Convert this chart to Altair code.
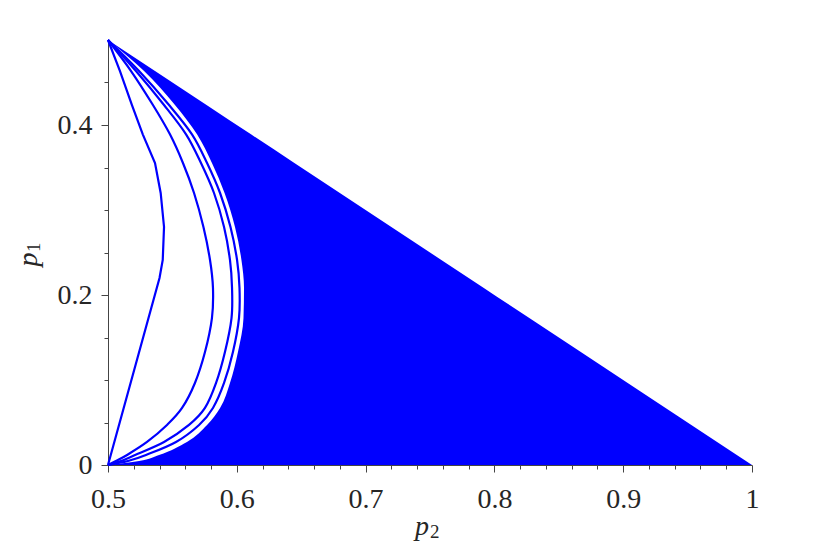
import altair as alt
import pandas as pd

# shared p1 grid for the curved boundaries (top -> bottom)
p1_grid = [0.5, 0.4635, 0.4235, 0.389, 0.3553, 0.32, 0.28, 0.2412, 0.2082,
           0.1729, 0.1329, 0.0965, 0.0671, 0.0471, 0.0271, 0.0118, 0.0047, 0.0]
curve2_p2 = [0.5, 0.5179, 0.5349, 0.5481, 0.5582, 0.5668, 0.5741, 0.5792, 0.5815,
             0.5807, 0.5753, 0.5675, 0.5575, 0.5458, 0.5303, 0.5148, 0.5062, 0.5]
curve3_p2 = [0.5, 0.5217, 0.5435, 0.5606, 0.5722, 0.5823, 0.5901, 0.5947, 0.5963,
             0.5959, 0.5908, 0.5839, 0.5753, 0.5629, 0.5435, 0.5210, 0.5101, 0.5]
curve4_p2 = [0.5, 0.5241, 0.5474, 0.5652, 0.5769, 0.5870, 0.5951, 0.6002, 0.6021,
             0.6017, 0.5970, 0.5901, 0.5815, 0.5707, 0.5528, 0.5295, 0.5155, 0.5]
edge_p2 = [0.5, 0.5280, 0.5520, 0.5691, 0.5807, 0.5905, 0.5986, 0.6036, 0.6056,
           0.6052, 0.6009, 0.5947, 0.5870, 0.5769, 0.5613, 0.5396, 0.5241, 0.5]

# innermost curve (with straight lower part)
curve1_p1 = [0.5, 0.4635, 0.4235, 0.389, 0.3553, 0.32, 0.28, 0.2412, 0.22, 0.0]
curve1_p2 = [0.5, 0.5093, 0.5186, 0.527, 0.5365, 0.5409, 0.5435, 0.5425, 0.540, 0.5]

x_ticks = [0.5, 0.52, 0.54, 0.56, 0.58, 0.6, 0.62, 0.64, 0.66, 0.68, 0.7, 0.72, 0.74,
           0.76, 0.78, 0.8, 0.82, 0.84, 0.86, 0.88, 0.9, 0.92, 0.94, 0.96, 0.98, 1.0]
y_ticks = [0.0, 0.05, 0.1, 0.15, 0.2, 0.25, 0.3, 0.35, 0.4, 0.45]

BLUE = "#0000ff"
FONT = "Liberation Serif"
INK = "#262626"

c1_df = pd.DataFrame({"idx": list(range(len(curve1_p1))), "p1": curve1_p1, "p2": curve1_p2})
rows = []
for name, arr in [("c2", curve2_p2), ("c3", curve3_p2), ("c4", curve4_p2)]:
    for i, (a, b) in enumerate(zip(p1_grid, arr)):
        rows.append({"curve": name, "idx": i, "p1": a, "p2": b})
lines_df = pd.DataFrame(rows)

fill_df = pd.DataFrame({
    "py": p1_grid,
    "xa": edge_p2,
    "xb": [1 - v for v in p1_grid],
})

x_major = "abs(datum.value*10 - round(datum.value*10)) < 1e-6"
y_major = "abs(datum.value*5 - round(datum.value*5)) < 1e-6"

x_scale = alt.Scale(domain=[0.5, 1.0], nice=False, zero=False)
y_scale = alt.Scale(domain=[0.0, 0.5], nice=False, zero=False)

x_axis = alt.Axis(
    values=x_ticks, title=None, grid=False,
    labelExpr=f"{x_major} ? format(datum.value, '~g') : ''",
    tickSize={"condition": {"test": x_major, "value": 7}, "value": 4},
    labelFont=FONT, labelFontSize=28, labelColor=INK, labelPadding=13,
    labelFlush=False, labelOverlap=False,
    tickColor="#444", domainColor="#444", tickWidth=1, domainWidth=1,
)
y_axis = alt.Axis(
    values=y_ticks, title=None, grid=False,
    labelExpr=f"{y_major} ? format(datum.value, '~g') : ''",
    tickSize={"condition": {"test": y_major, "value": 7}, "value": 4},
    labelFont=FONT, labelFontSize=28, labelColor=INK, labelPadding=9,
    labelFlush=False, labelOverlap=False,
    tickColor="#444", domainColor="#444", tickWidth=1, domainWidth=1,
)

fill = alt.Chart(fill_df).mark_area(orient="horizontal", fill=BLUE, fillOpacity=1,
                                     interpolate="monotone").encode(
    y=alt.Y("py:Q", scale=y_scale, axis=y_axis),
    x=alt.X("xa:Q", scale=x_scale, axis=x_axis, stack=None),
    x2="xb:Q",
)

line1 = alt.Chart(c1_df).mark_line(color=BLUE, strokeWidth=2.2).encode(
    x=alt.X("p2:Q", scale=x_scale, axis=x_axis),
    y=alt.Y("p1:Q", scale=y_scale, axis=y_axis),
    order=alt.Order("idx:Q"),
)

lines = alt.Chart(lines_df).mark_line(color=BLUE, strokeWidth=2.2,
                                      interpolate="cardinal").encode(
    x=alt.X("p2:Q", scale=x_scale, axis=x_axis),
    y=alt.Y("p1:Q", scale=y_scale, axis=y_axis),
    detail="curve:N",
    order=alt.Order("idx:Q"),
)

one = pd.DataFrame({"k": [0]})
xt_p = alt.Chart(one).mark_text(text="p", font=FONT, fontSize=28, fontStyle="italic",
                                color=INK, align="center", baseline="alphabetic").encode(
    x=alt.value(314), y=alt.value(495))
xt_s = alt.Chart(one).mark_text(text="2", font=FONT, fontSize=19,
                                color=INK, align="left", baseline="alphabetic").encode(
    x=alt.value(322), y=alt.value(498))
yt_p = alt.Chart(one).mark_text(text="p", font=FONT, fontSize=28, fontStyle="italic",
                                color=INK, align="center", baseline="alphabetic", angle=270).encode(
    x=alt.value(-71), y=alt.value(219.5))
yt_s = alt.Chart(one).mark_text(text="1", font=FONT, fontSize=19,
                                color=INK, align="left", baseline="alphabetic", angle=270).encode(
    x=alt.value(-68), y=alt.value(212))

chart = alt.layer(fill, line1, lines, xt_p, xt_s, yt_p, yt_s).properties(
    width=644, height=425,
    autosize=alt.AutoSizeParams(type="none"),
    padding={"left": 100, "top": 32, "right": 70, "bottom": 82},
).configure_view(stroke=None)

chart.save("out.html", embed_options={"renderer": "svg", "actions": False})
